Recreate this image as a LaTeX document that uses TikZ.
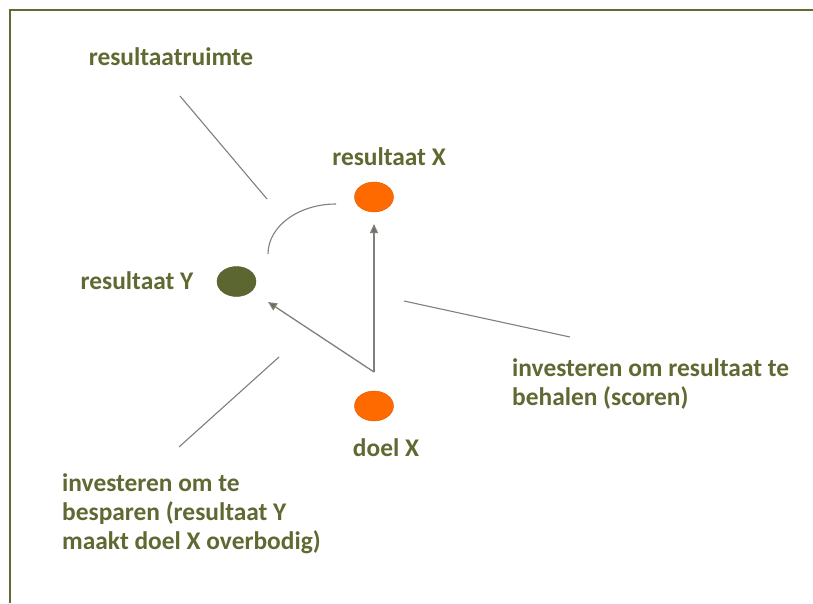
\documentclass[tikz,border=0pt]{standalone}
\usepackage{fontspec}
\setmainfont{Carlito}
\usetikzlibrary{arrows.meta,shapes.geometric}
\definecolor{olivetext}{RGB}{94,106,50}
\definecolor{olivedot}{RGB}{92,102,48}
\definecolor{framecol}{RGB}{96,108,52}
\definecolor{dotorange}{RGB}{255,106,0}
\definecolor{linegray}{RGB}{128,128,122}
\definecolor{tipgray}{RGB}{104,110,88}
\tikzset{
  lbl/.style={text=olivetext, font=\fontsize{25.4}{29}\selectfont\bfseries, inner sep=0pt, align=left},
  dot/.style={ellipse, minimum width=39pt, minimum height=30pt, inner sep=0pt},
  orangedot/.style={dot, fill=dotorange, draw=dotorange!85!black, line width=0.4pt},
  olivedotst/.style={dot, fill=olivedot, draw=olivedot!85!black, line width=0.4pt},
  callout/.style={draw=linegray, line width=1.1pt},
  flow/.style={draw=linegray, line width=1.3pt, -{Triangle[length=9pt,width=8pt,fill=tipgray]}},
}
\begin{document}
\begin{tikzpicture}[x=1pt, y=-1pt]
  \useasboundingbox (0,0) rectangle (813,603);
  \fill[white] (0,0) rectangle (813,603);
  % frame edges (top and left)
  \draw[framecol, line width=2pt] (10,603) -- (10,10) -- (813,10);

  % result points and goal
  \node[orangedot] (rx) at (374,197) {};
  \node[olivedotst] (ry) at (236.5,281.5) {};
  \node[orangedot] (dx) at (374,406) {};

  % labels
  \node[lbl] (lrx) at (389,157) {resultaat X};
  \node[lbl] (lry) at (137,281) {resultaat Y};
  \node[lbl] (ldx) at (386,448) {doel X};
  \node[lbl] (lrr) at (171,57) {resultaatruimte};
  \node[lbl, anchor=west] (lsc) at (512,384) {investeren om resultaat te\\behalen (scoren)};
  \node[lbl, anchor=west] (lbe) at (62,514) {investeren om te\\besparen (resultaat Y\\maakt doel X overbodig)};

  % investment fork above the goal
  \coordinate (fork) at (374,372);
  \draw[flow] (fork) -- (374,224);
  \draw[flow] (fork) -- (268,302);

  % result space arc between the two results
  \draw[callout] (268,254) arc[start angle=180, end angle=270, x radius=68, y radius=50];

  % callout lines
  \coordinate (c1a) at (180,96);   \coordinate (c1b) at (267,199);
  \coordinate (c2a) at (404,301);  \coordinate (c2b) at (570,337);
  \coordinate (c3a) at (279,357);  \coordinate (c3b) at (179,447);
  \draw[callout] (c1a) -- (c1b);
  \draw[callout] (c2a) -- (c2b);
  \draw[callout] (c3a) -- (c3b);
\end{tikzpicture}
\end{document}
